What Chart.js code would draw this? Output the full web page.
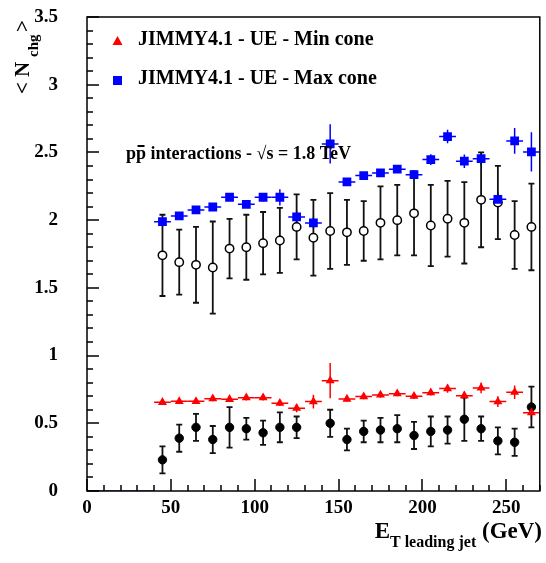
<!DOCTYPE html>
<html>
<head>
<meta charset="utf-8">
<script src="https://cdn.jsdelivr.net/npm/chart.js@4"></script>
<style>
  html, body { margin: 0; padding: 0; background: #fff; }
</style>
</head>
<body>
<canvas id="chart" width="546" height="563"></canvas>
<script>
// bin centres (GeV)
const etBins = [45, 55, 65, 75, 85, 95, 105, 115, 125, 135, 145, 155, 165, 175, 185, 195, 205, 215, 225, 235, 245, 255, 265];

// CDF data, max cone (open circles)
const dataMax = [1.74, 1.69, 1.67, 1.65, 1.79, 1.80, 1.83, 1.85, 1.95, 1.87, 1.92, 1.91, 1.92, 1.98, 2.00, 2.05, 1.96, 2.01, 1.98, 2.15, 2.13, 1.89, 1.95];
const dataMaxErr = [0.30, 0.24, 0.28, 0.34, 0.22, 0.24, 0.23, 0.24, 0.24, 0.28, 0.28, 0.24, 0.22, 0.27, 0.26, 0.31, 0.30, 0.28, 0.30, 0.35, 0.27, 0.25, 0.32];

// CDF data, min cone (filled circles) - no point in the 135 bin
const dataMin = [0.23, 0.39, 0.47, 0.38, 0.47, 0.46, 0.43, 0.47, 0.47, null, 0.50, 0.38, 0.44, 0.45, 0.46, 0.41, 0.44, 0.45, 0.53, 0.46, 0.37, 0.36, 0.62];
const dataMinErr = [0.10, 0.10, 0.10, 0.10, 0.15, 0.08, 0.09, 0.11, 0.08, null, 0.10, 0.08, 0.08, 0.09, 0.10, 0.10, 0.11, 0.10, 0.16, 0.09, 0.10, 0.10, 0.15];

// JIMMY4.1 predictions
const jimmyMin = [0.655, 0.662, 0.662, 0.682, 0.677, 0.689, 0.689, 0.648, 0.611, 0.66, 0.815, 0.679, 0.697, 0.709, 0.719, 0.70, 0.726, 0.756, 0.704, 0.761, 0.66, 0.729, 0.578];
const jimmyMinErr = [0.02, 0.02, 0.02, 0.02, 0.02, 0.02, 0.02, 0.02, 0.03, 0.05, 0.13, 0.02, 0.02, 0.02, 0.02, 0.02, 0.02, 0.03, 0.03, 0.04, 0.04, 0.05, 0.05];
const jimmyMax = [1.989, 2.031, 2.075, 2.097, 2.169, 2.117, 2.169, 2.169, 2.024, 1.979, 2.563, 2.282, 2.329, 2.349, 2.376, 2.336, 2.447, 2.617, 2.435, 2.454, 2.154, 2.585, 2.504];
const jimmyMaxErr = [0.02, 0.02, 0.02, 0.02, 0.02, 0.02, 0.03, 0.06, 0.04, 0.04, 0.145, 0.02, 0.02, 0.02, 0.02, 0.03, 0.04, 0.05, 0.05, 0.05, 0.05, 0.095, 0.145];

// empty histogram bins drawn along the axis
const emptyRange = [0, 40];

// axis tick spacing
const xMinorStep = 10, xMajorStep = 50;
const yMinorStep = 0.1, yMajorStep = 0.5;

const legendLabels = ['JIMMY4.1 - UE - Min cone', 'JIMMY4.1 - UE - Max cone'];

const serif = '"Liberation Serif", "Times New Roman", serif';

function toPoints(vals) {
    return etBins.map((x, i) => ({ x: x, y: vals[i] })).filter(p => p.y !== null);
}

// vertical (and optional horizontal) error bars
const errorBars = {
    id: 'errorBars',
    beforeDatasetsDraw(chart) {
        const { ctx, scales: { x, y } } = chart;
        ctx.save();
        chart.data.datasets.forEach(ds => {
            if (!ds.yErr) return;
            ctx.strokeStyle = ds.errColor;
            ctx.lineWidth = ds.errWidth;
            etBins.forEach((xv, i) => {
                const v = ds.yVals[i];
                const e = ds.yErr[i];
                if (v === null) return;
                const px = x.getPixelForValue(xv);
                const top = y.getPixelForValue(v + e);
                const bot = y.getPixelForValue(v - e);
                ctx.beginPath();
                ctx.moveTo(px, top);
                ctx.lineTo(px, bot);
                if (ds.caps) {
                    ctx.moveTo(px - 3, top);
                    ctx.lineTo(px + 3, top);
                    ctx.moveTo(px - 3, bot);
                    ctx.lineTo(px + 3, bot);
                }
                if (ds.xErr) {
                    const py = y.getPixelForValue(v);
                    ctx.moveTo(x.getPixelForValue(xv - ds.xErr), py);
                    ctx.lineTo(x.getPixelForValue(xv + ds.xErr), py);
                }
                ctx.stroke();
            });
        });
        ctx.restore();
    }
};

// frame, inward ticks, titles, legend
const rootStyle = {
    id: 'rootStyle',
    afterDraw(chart) {
        const c = chart.ctx;
        const a = chart.chartArea;
        const xs = chart.scales.x;
        const ys = chart.scales.y;
        c.save();

        // ticks pointing into the frame
        c.strokeStyle = '#000';
        c.lineWidth = 1.5;
        c.beginPath();
        for (let v = 0; v <= 270; v += xMinorStep) {
            const px = Math.round(xs.getPixelForValue(v));
            const len = (v % xMajorStep === 0) ? 12 : 6;
            c.moveTo(px, a.bottom);
            c.lineTo(px, a.bottom - len);
        }
        for (let i = 0; i <= 35; i++) {
            const py = Math.round(ys.getPixelForValue(i * yMinorStep));
            const len = (i % 5 === 0) ? 12 : 6;
            c.moveTo(a.left, py);
            c.lineTo(a.left + len, py);
        }
        c.stroke();

        c.lineWidth = 1.5;
        c.strokeRect(a.left, a.top, a.right - a.left, a.bottom - a.top);

        c.fillStyle = '#000';
        c.textBaseline = 'alphabetic';

        // x title
        const big = 'bold 23px ' + serif;
        const small = 'bold 16px ' + serif;
        c.font = big;
        const wE = c.measureText('E').width;
        const wG = c.measureText(' (GeV)').width;
        c.font = small;
        const wS = c.measureText('T leading jet').width;
        const tx = 542 - (wE + wS + wG);
        c.font = big;
        c.fillText('E', tx, 538);
        c.font = small;
        c.fillText('T leading jet', tx + wE, 547);
        c.font = big;
        c.fillText(' (GeV)', tx + wE + wS, 538);

        // y title, rotated
        c.save();
        c.translate(29, 94);
        c.rotate(-Math.PI / 2);
        c.font = 'bold 21px ' + serif;
        c.fillText('<', 0, 0);
        c.fillText('N', 17, 0);
        c.font = 'bold 15px ' + serif;
        c.fillText('chg', 37, 9);
        c.font = 'bold 21px ' + serif;
        c.fillText('>', 62, 0);
        c.restore();

        // legend
        c.fillStyle = '#ff0000';
        c.beginPath();
        c.moveTo(117.5, 36);
        c.lineTo(122.5, 45);
        c.lineTo(112.5, 45);
        c.closePath();
        c.fill();
        c.fillStyle = '#0000ff';
        c.fillRect(113, 76, 9, 9);
        c.fillStyle = '#000';
        c.font = 'bold 20px ' + serif;
        c.fillText(legendLabels[0], 138, 45);
        c.fillText(legendLabels[1], 138, 84);

        // beam label
        c.font = 'bold 18px ' + serif;
        const bx = 126;
        const by = 159;
        const wp = c.measureText('p').width;
        c.fillText('p', bx, by);
        c.fillText('p', bx + wp, by);
        c.fillRect(bx + wp + 1.5, by - 14, wp - 3, 2);
        c.fillText(' interactions - \u221As = 1.8 TeV', bx + 2 * wp, by);

        c.restore();
    }
};

const ctx = document.getElementById('chart').getContext('2d');
new Chart(ctx, {
    type: 'scatter',
    data: {
        datasets: [
            {
                label: legendLabels[1],
                data: toPoints(jimmyMax),
                yVals: jimmyMax, yErr: jimmyMaxErr, xErr: 5,
                errColor: '#0000ff', errWidth: 1.5, caps: false,
                pointStyle: 'rect', pointRadius: 6.2,
                backgroundColor: '#0000ff', borderColor: '#0000ff', borderWidth: 0
            },
            {
                label: legendLabels[0],
                data: toPoints(jimmyMin),
                yVals: jimmyMin, yErr: jimmyMinErr, xErr: 5,
                errColor: '#ff0000', errWidth: 1.5, caps: false,
                pointStyle: 'triangle', pointRadius: 5.2,
                backgroundColor: '#ff0000', borderColor: '#ff0000', borderWidth: 0
            },
            {
                label: 'Data max cone',
                data: toPoints(dataMax),
                yVals: dataMax, yErr: dataMaxErr,
                errColor: '#111', errWidth: 1.8, caps: true,
                pointStyle: 'circle', pointRadius: 4.2,
                backgroundColor: '#fff', borderColor: '#000', borderWidth: 1.5
            },
            {
                label: 'Data min cone',
                data: toPoints(dataMin),
                yVals: dataMin, yErr: dataMinErr,
                errColor: '#111', errWidth: 1.8, caps: true,
                pointStyle: 'circle', pointRadius: 4.2,
                backgroundColor: '#000', borderColor: '#000', borderWidth: 1
            },
            {
                label: 'empty bins',
                data: emptyRange.map(v => ({ x: v, y: 0 })),
                showLine: true, pointRadius: 0,
                borderColor: '#3030b0', borderWidth: 1.5
            }
        ]
    },
    options: {
        responsive: false,
        animation: false,
        layout: { padding: { left: 0, top: 17, right: 5, bottom: 0 } },
        plugins: { legend: { display: false }, tooltip: { enabled: false } },
        scales: {
            x: {
                type: 'linear', min: 0, max: 270,
                afterFit: s => {
                    s.height = 72;
                    s.paddingLeft = 0;
                    s.paddingRight = 0;
                },
                grid: { display: false },
                border: { display: false },
                ticks: {
                    stepSize: xMajorStep, includeBounds: false, maxRotation: 0, padding: -2,
                    color: '#000', font: { family: serif, size: 19, weight: 'bold' }
                }
            },
            y: {
                type: 'linear', min: 0, max: 3.5,
                afterFit: s => {
                    s.width = 87;
                    s.paddingTop = 0;
                    s.paddingBottom = 0;
                },
                grid: { display: false },
                border: { display: false },
                ticks: {
                    stepSize: yMajorStep, padding: 21,
                    callback: v => String(Math.round(v * 10) / 10),
                    color: '#000', font: { family: serif, size: 19, weight: 'bold' }
                }
            }
        }
    },
    plugins: [errorBars, rootStyle]
});
</script>
</body>
</html>
